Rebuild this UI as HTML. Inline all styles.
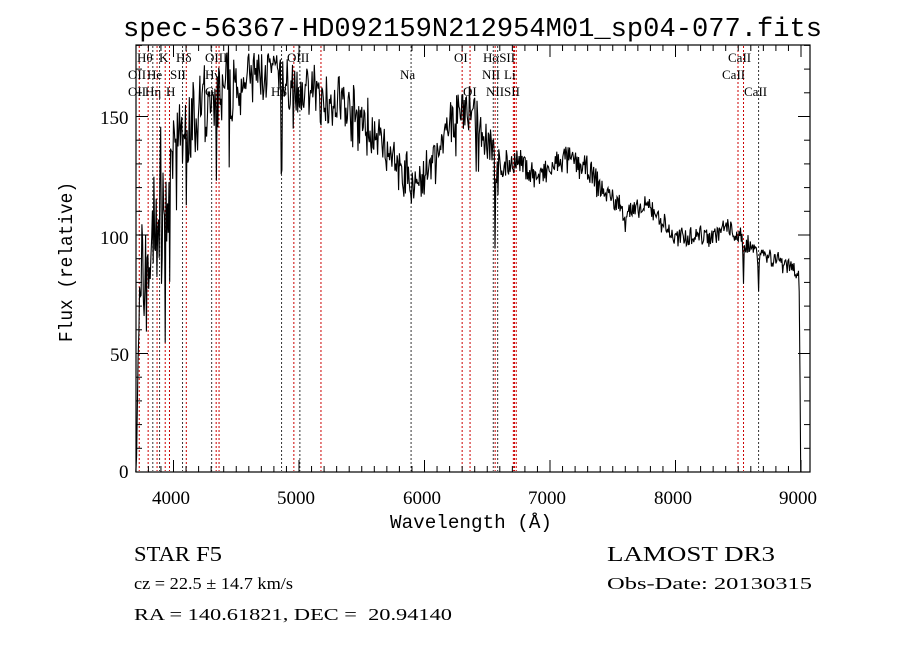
<!DOCTYPE html>
<html><head><meta charset="utf-8"><style>
html,body{margin:0;padding:0;background:#fff;width:900px;height:649px;overflow:hidden}
svg text{font-family:"Liberation Serif",serif;fill:#000}
.t{font-family:"Liberation Sans",sans-serif;font-size:19px}
.l{font-family:"Liberation Serif",serif;font-size:13px}
.m{font-family:"Liberation Mono",monospace}
</style></head><body>
<svg id="s" width="900" height="649" viewBox="0 0 900 649" xmlns="http://www.w3.org/2000/svg">
<rect width="900" height="649" fill="#fff"/>
<text x="123" y="36" font-size="27" class="m" textLength="699" lengthAdjust="spacingAndGlyphs">spec-56367-HD092159N212954M01_sp04-077.fits</text>
<g id="lines"></g>
<polyline id="spec" fill="none" stroke="#000" stroke-width="1.1"/>
<rect x="136" y="45" width="674" height="427" fill="none" stroke="#000" stroke-width="1.2"/>
<g id="ticks" stroke="#000" stroke-width="1"></g>
<g class="t">
<text x="152" y="504">4000</text><text x="277" y="504">5000</text><text x="403" y="504">6000</text>
<text x="528" y="504">7000</text><text x="654" y="504">8000</text><text x="779" y="504">9000</text>
<text x="100" y="124">150</text><text x="100" y="244">100</text><text x="110" y="361">50</text><text x="119" y="478">0</text>
</g>
<text x="390" y="528" font-size="19" class="m" textLength="162" lengthAdjust="spacingAndGlyphs">Wavelength (Å)</text>
<text transform="translate(72,342) rotate(-90)" font-size="19" class="m" textLength="160" lengthAdjust="spacingAndGlyphs">Flux (relative)</text>
<g class="l">
<text x="137" y="62">Hθ</text><text x="159" y="62">K</text><text x="176" y="62">Hδ</text><text x="205" y="62">OIII</text><text x="287" y="62">OIII</text>
<text x="128" y="79">OII</text><text x="147" y="79">He</text><text x="170" y="79">SII</text><text x="205" y="79">Hγ</text><text x="400" y="79">Na</text>
<text x="128" y="96">OII</text><text x="145" y="96">Hη</text><text x="166" y="96">H</text><text x="205" y="96">G</text><text x="271" y="96">Hβ</text>
<text x="454" y="62">OI</text><text x="483" y="62">HαSII</text><text x="728" y="62">CaII</text>
<text x="482" y="79">NII</text><text x="504" y="79">Li</text><text x="722" y="79">CaII</text>
<text x="463" y="96">OI</text><text x="486" y="96">NIISII</text><text x="744" y="96">CaII</text>
</g>
<text x="134" y="561" font-size="21" textLength="56" lengthAdjust="spacingAndGlyphs">STAR</text>
<text x="196" y="561" font-size="21" textLength="26" lengthAdjust="spacingAndGlyphs">F5</text>
<text x="607" y="561" font-size="21" textLength="168" lengthAdjust="spacingAndGlyphs">LAMOST DR3</text>
<text x="134" y="589" font-size="17" textLength="159" lengthAdjust="spacingAndGlyphs">cz = 22.5 ± 14.7 km/s</text>
<text x="607" y="589" font-size="17" textLength="205" lengthAdjust="spacingAndGlyphs">Obs-Date: 20130315</text>
<text x="134" y="620" font-size="17" textLength="318" lengthAdjust="spacingAndGlyphs">RA = 140.61821, DEC =&#160;&#160;20.94140</text>
</svg>
<script>
var X=function(w){return 173.5+(w-4000)*0.1255};
var Y=function(f){return 472-2.37*f};
var ns="http://www.w3.org/2000/svg";
var lg=document.getElementById('lines');
var L=[[3727,1],[3798,1],[3835,0],[3869,1],[3889,0],[3934,1],[3968,1],[4072,0],[4102,1],[4304,0],[4340,1],[4363,1],[4861,0],[4959,1],[5007,0],[5175,1],[5893,0],[6300,1],[6363,1],[6548,0],[6563,1],[6583,0],[6708,1],[6717,1],[6731,1],[8498,1],[8542,1],[8662,0]];
L.forEach(function(a){var l=document.createElementNS(ns,'line');var x=X(a[0]);
l.setAttribute('x1',x);l.setAttribute('x2',x);l.setAttribute('y1',46);l.setAttribute('y2',471);
l.setAttribute('stroke',a[1]?'#c00':'#333');l.setAttribute('stroke-width','1');l.setAttribute('stroke-dasharray','2,2');lg.appendChild(l);});
var tg=document.getElementById('ticks');
function tk(x1,y1,x2,y2){var l=document.createElementNS(ns,'line');l.setAttribute('x1',x1);l.setAttribute('y1',y1);l.setAttribute('x2',x2);l.setAttribute('y2',y2);tg.appendChild(l);}
for(var w=3800;w<=9000;w+=100){var x=X(w),big=w%1000==0;tk(x,472,x,472-(big?12:6));tk(x,45,x,45+(big?12:6));}
for(var f=0;f<=180;f+=10){var y=Y(f),big=f%50==0;tk(136,y,136+(big?12:6),y);tk(810,y,810-(big?12:6),y);}
var A=[[3700,0],[3712,30],[3730,60],[3760,85],[3800,95],[3850,105],[3900,115],[3950,110],[4000,140],[4100,148],[4200,150],[4300,155],[4400,160],[4500,163],[4600,166],[4700,168],[4800,168],[4900,163],[5000,162],[5100,162],[5200,158],[5300,158],[5400,152],[5500,148],[5600,143],[5700,136],[5800,128],[5900,122],[6000,125],[6100,133],[6200,145],[6280,155],[6350,152],[6450,145],[6530,140],[6600,128],[6700,131],[6800,129],[6900,124],[7000,127],[7100,132],[7200,131],[7300,127],[7400,120],[7500,115],[7600,110],[7700,110],[7800,112],[7900,105],[8000,98],[8100,100],[8200,100],[8300,100],[8400,103],[8500,100],[8600,95],[8700,92],[8800,90],[8900,88],[8985,84],[8992,40],[8998,0]];
var D=[[3934,40],[3968,35],[3890,30],[3835,25],[3800,20],[4102,40],[4340,35],[4861,50],[5175,10],[5893,12],[6563,40],[8542,15],[8662,12],[8498,10],[7600,8]];
function base(w){for(var i=0;i<A.length-1;i++){if(w>=A[i][0]&&w<=A[i+1][0]){var t=(w-A[i][0])/(A[i+1][0]-A[i][0]);return A[i][1]+t*(A[i+1][1]-A[i][1]);}}return 0;}
var seed=7;function r(){seed=(seed*16807)%2147483647;return seed/2147483647-0.5;}
var pts=[];
for(var w=3700;w<=8998;w+=6){var f=base(w);
var amp=w<4000?55:(w<4500?26:(w<5600?18:(w<6600?15:(w<7500?9:7))));
f+=r()*amp+r()*amp*0.6;
if(w<6600&&r()>0.44)f-=amp*0.8*(r()+0.5);
D.forEach(function(d){var dx=Math.abs(w-d[0]);if(dx<8)f-=d[1]*(1-dx/8);});
if(w>8990)f=base(w);
if(f<0)f=0;if(f>181)f=181;
pts.push(X(w).toFixed(1)+','+Y(f).toFixed(1));}
document.getElementById('spec').setAttribute('points',pts.join(' '));
</script>
</body></html>
